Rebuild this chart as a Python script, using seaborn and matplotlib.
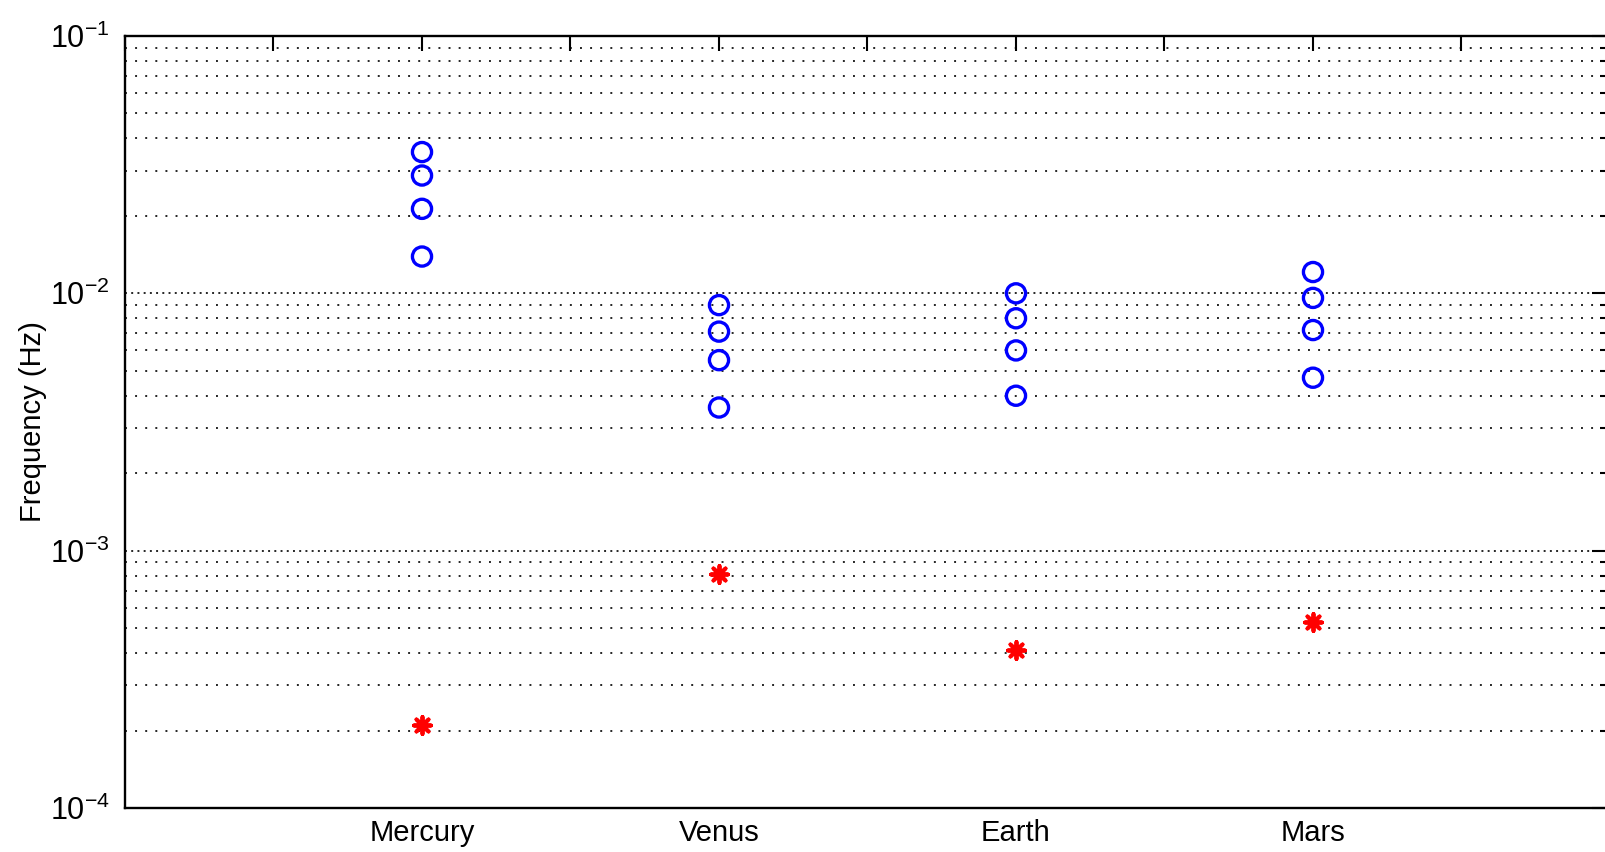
import numpy as np
import pandas as pd
import matplotlib
matplotlib.use("Agg")
import matplotlib.pyplot as plt
import seaborn as sns
from matplotlib.ticker import LogLocator, NullFormatter, FuncFormatter

# ---- data ----
planets = ["Mercury", "Venus", "Earth", "Mars"]
mercury_modes = [0.0354, 0.0287, 0.0213, 0.0139]
venus_modes = [0.0090, 0.0071, 0.0055, 0.0036]
earth_modes = [0.0100, 0.0080, 0.0060, 0.0040]
mars_modes = [0.0121, 0.0096, 0.0072, 0.0047]
fundamental = [2.1e-4, 8.1e-4, 4.1e-4, 5.3e-4]
y_label = "Frequency (Hz)"

modes_by_planet = [mercury_modes, venus_modes, earth_modes, mars_modes]
rows = []
for i, (p, vals) in enumerate(zip(planets, modes_by_planet)):
    for v in vals:
        rows.append({"planet": p, "pos": i + 1, "freq": v})
df_modes = pd.DataFrame(rows)
df_fund = pd.DataFrame({"planet": planets,
                        "pos": np.arange(1, len(planets) + 1),
                        "freq": fundamental})

sns.set_theme(style="white")
plt.rcParams["font.family"] = ["Liberation Sans", "DejaVu Sans"]
plt.rcParams["mathtext.fontset"] = "custom"
plt.rcParams["mathtext.rm"] = "Liberation Sans"
plt.rcParams["mathtext.default"] = "regular"

W, H = 1606, 852
fig = plt.figure(figsize=(W / 100, H / 100), dpi=100)
fig.patch.set_facecolor("white")
left, right, top, bottom = 125, 1610, 36, 808
ax = fig.add_axes([left / W, 1 - bottom / H, (right - left) / W, (bottom - top) / H])
ax.set_facecolor("white")

sns.scatterplot(data=df_modes, x="pos", y="freq", marker="o", s=190,
                color="blue", facecolors="none", edgecolor="blue",
                linewidth=2.4, legend=False, ax=ax, zorder=3)
sns.scatterplot(data=df_fund, x="pos", y="freq", marker=(8, 2, 0), s=150,
                color="red", linewidth=2.8, legend=False, ax=ax, zorder=3)

ax.set_yscale("log")
ax.set_ylim(1e-4, 1e-1)
ax.set_xlim(0, len(planets) + 1)

ax.yaxis.set_major_locator(LogLocator(base=10))
ax.yaxis.set_minor_locator(LogLocator(base=10, subs=np.arange(2, 10)))
ax.yaxis.set_minor_formatter(NullFormatter())
ax.yaxis.set_major_formatter(FuncFormatter(
    lambda v, pos: r"$\mathregular{10^{%d}}$" % int(round(np.log10(v)))))

xt = np.arange(0, len(planets) + 1.01, 0.5)
xl = [planets[int(t) - 1] if (t == int(t) and 1 <= t <= len(planets)) else ""
      for t in xt]
ax.set_xticks(xt)
ax.set_xticklabels(xl)

ax.yaxis.grid(True, which="minor", color="black",
              linestyle=(0, (1, 4.2)), linewidth=1.4, alpha=0.85)
ax.yaxis.grid(True, which="major", color="black",
              linestyle=(0, (1, 2.2)), linewidth=1.4, alpha=0.85)
ax.xaxis.grid(False)

ax.tick_params(axis="both", which="both", direction="in",
               top=True, right=True, colors="black", labelsize=21, width=1.5)
ax.tick_params(axis="x", which="major", length=11, pad=8)
ax.tick_params(axis="y", which="major", length=13, pad=11, labelsize=22)
ax.tick_params(axis="y", which="minor", length=7)
for s in ax.spines.values():
    s.set_color("black")
    s.set_linewidth(1.7)

ax.set_xlabel("")
ax.set_ylabel(y_label, fontsize=21, color="black")
ax.yaxis.set_label_coords((47 - left) / (right - left), 0.5)

fig.savefig("out.png", dpi=100, facecolor="white")
